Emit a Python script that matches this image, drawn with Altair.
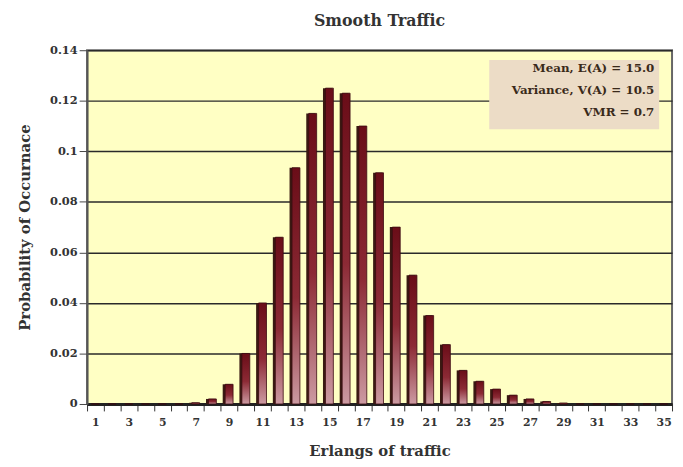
import altair as alt
import pandas as pd

erlangs = list(range(1, 36))
probs = [0, 0, 0, 0, 0, 0, 0.0005, 0.002, 0.0078, 0.020, 0.040, 0.066, 0.0935, 0.115,
         0.125, 0.123, 0.110, 0.0915, 0.070, 0.051, 0.035, 0.0235, 0.0133, 0.009,
         0.0059, 0.0035, 0.002, 0.001, 0.0004, 0, 0, 0, 0, 0, 0]
stats_lines = ["Mean, E(A) = 15.0", "Variance, V(A) = 10.5", "VMR = 0.7"]
y_ticks = [0, 0.02, 0.04, 0.06, 0.08, 0.10, 0.12, 0.14]

df = pd.DataFrame({"k": erlangs, "p": probs})
FONT = "DejaVu Serif"

xenc = alt.X("k:O", sort=erlangs, title="Erlangs of traffic",
             scale=alt.Scale(paddingInner=0, paddingOuter=0),
             axis=alt.Axis(labelAngle=0, tickBand="extent",
                           labelExpr="datum.value % 2 == 1 ? datum.label : ''",
                           domainColor="#222", domainWidth=3, tickColor="#333",
                           tickSize=7, labelPadding=6, labelFontSize=11,
                           labelFontWeight="bold", labelColor="#333", titleFontSize=15,
                           titleColor="#333", titlePadding=16))
yenc = alt.Y("p:Q", title="Probability of Occurnace",
             scale=alt.Scale(domain=[0, 0.14]),
             axis=alt.Axis(values=y_ticks, format="~g", grid=True, gridColor="#2a2a2a",
                           gridWidth=1.5, domainColor="#555", domainWidth=2,
                           tickColor="#444", tickSize=8, labelFontSize=11.5,
                           labelFontWeight="bold", labelColor="#333", titleFontSize=15,
                           titleColor="#333", titlePadding=17))

grad = alt.Gradient(gradient="linear", x1=0, x2=0, y1=0, y2=1,
                    stops=[alt.GradientStop(color="#6a0d18", offset=0),
                           alt.GradientStop(color="#8c2a35", offset=0.55),
                           alt.GradientStop(color="#cc9aa2", offset=1)])

shadow = alt.Chart(df).mark_bar(size=9, color="#3a1a12", xOffset=-2).encode(x=xenc, y=yenc)
bars = alt.Chart(df).mark_bar(size=8, fill=grad, stroke="#3a0a10", strokeWidth=0.8).encode(x=xenc, y=yenc)

box = alt.Chart(pd.DataFrame({"a": [0]})).mark_rect(color="#ecdcc6").encode(
    x=alt.value(407), x2=alt.value(579), y=alt.value(10), y2=alt.value(80))

texts = alt.Chart(pd.DataFrame({"t": ["\n".join(stats_lines)]})).mark_text(
    align="right", baseline="top", font=FONT, fontWeight="bold", fontSize=12,
    color="#3a2a1a", lineBreak="\n", lineHeight=22.5).encode(
    x=alt.value(574), y=alt.value(13), text="t:N")

chart = alt.layer(shadow, bars, box, texts).properties(
    width=592, height=358,
    title=alt.TitleParams("Smooth Traffic", font=FONT, fontSize=16, fontWeight="bold",
                          color="#333", anchor="middle", offset=16),
    autosize=alt.AutoSizeParams(type="none"),
    padding={"left": 80, "top": 40, "right": 3, "bottom": 60},
).configure(font=FONT).configure_axis(labelFont=FONT, titleFont=FONT).configure_view(
    fill="#ffffc4", stroke="#666", strokeWidth=2)

chart.save("out.html", embed_options={"renderer": "svg", "actions": False})
